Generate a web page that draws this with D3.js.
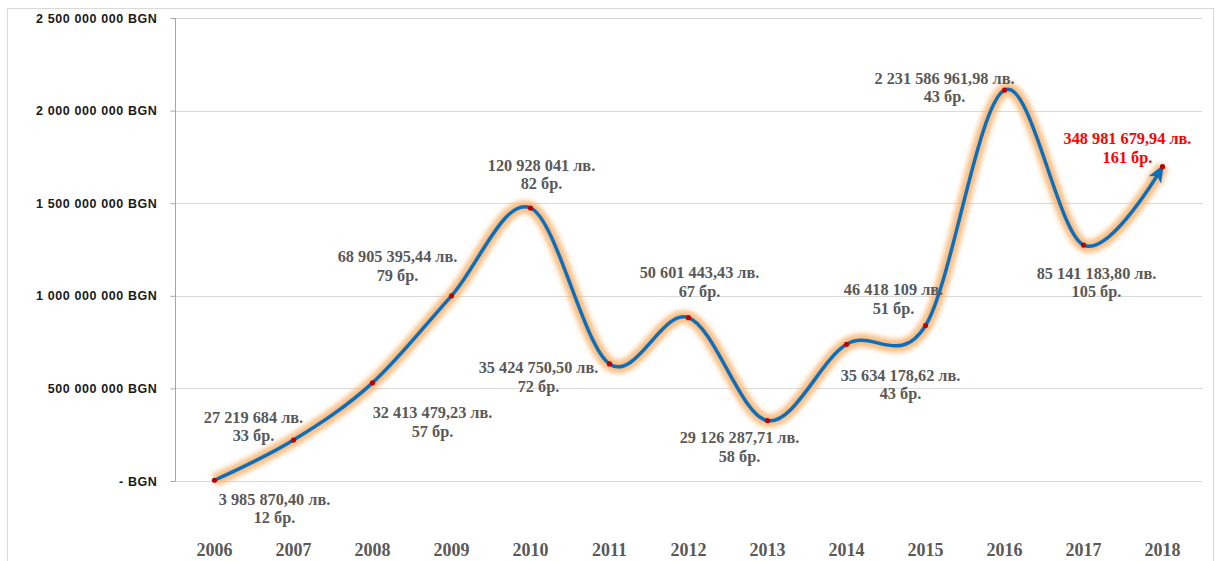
<!DOCTYPE html>
<html>
<head>
<meta charset="utf-8">
<script src="https://cdn.jsdelivr.net/npm/d3@7"></script>
<style>
  html, body { margin: 0; padding: 0; background: #fff; }
  svg { display: block; }
</style>
</head>
<body>
<div id="chart"></div>
<script>
// Years on the horizontal axis
const years = [2006, 2007, 2008, 2009, 2010, 2011, 2012, 2013, 2014, 2015, 2016, 2017, 2018];

// Plotted series (BGN)
const seriesValues = [3985870, 221e6, 530e6, 1000e6, 1474e6, 632e6, 882e6, 326e6, 738e6, 839e6, 2111e6, 1274e6, 1697e6];

// Annotation text for each year: amount and number of items
const amountLabels = [
  "3 985 870,40 лв.", "27 219 684 лв.", "32 413 479,23 лв.", "68 905 395,44 лв.",
  "120 928 041 лв.", "35 424 750,50 лв.", "50 601 443,43 лв.", "29 126 287,71 лв.",
  "35 634 178,62 лв.", "46 418 109 лв.", "2 231 586 961,98 лв.", "85 141 183,80 лв.",
  "348 981 679,94 лв."
];
const countLabels = [12, 33, 57, 79, 82, 72, 67, 58, 43, 51, 43, 105, 161];

// Y axis ticks
const yTickValues = [0, 500e6, 1000e6, 1500e6, 2000e6, 2500e6];
const yTickLabels = ["- BGN", "500 000 000 BGN", "1 000 000 000 BGN", "1 500 000 000 BGN", "2 000 000 000 BGN", "2 500 000 000 BGN"];

// Label placement relative to each point (dx, dy of first line centre)
const labelOffsets = [
  [60, 19], [-40, -23], [60, 30], [-54, -39], [11, -43], [-71, 4], [11, -45],
  [-28, 17], [54, 31], [-32, -36], [-60, -12], [13, 28], [-35, -28]
];

const W = 1219, H = 561;
const svg = d3.select("#chart").append("svg").attr("width", W).attr("height", H);

const defs = svg.append("defs");
defs.append("filter").attr("id", "glow").attr("x", "-10%").attr("y", "-10%").attr("width", "120%").attr("height", "120%")
  .append("feGaussianBlur").attr("stdDeviation", 2.8);
defs.append("marker").attr("id", "arrow")
  .attr("viewBox", "0 0 10 10").attr("refX", 8.5).attr("refY", 5)
  .attr("markerWidth", 18).attr("markerHeight", 18)
  .attr("markerUnits", "userSpaceOnUse").attr("orient", "auto")
  .append("path").attr("d", "M0,1 L10,5 L0,9 L2.5,5 Z").attr("fill", "#0C6FBE");
defs.append("marker").attr("id", "arrowGlow")
  .attr("viewBox", "0 0 10 10").attr("refX", 8.5).attr("refY", 5)
  .attr("markerWidth", 18).attr("markerHeight", 18)
  .attr("markerUnits", "userSpaceOnUse").attr("orient", "auto")
  .append("path").attr("d", "M-1.5,-0.5 L11.5,5 L-1.5,10.5 Z").attr("fill", "#F9B872");

// Outer frame
svg.append("rect").attr("x", 7.5).attr("y", 8.5).attr("width", 1206).attr("height", 560)
  .attr("fill", "none").attr("stroke", "#D9D9D9").attr("stroke-width", 1);

const x = d3.scalePoint().domain(years).range([175, 1202]).padding(0.5);
const y = d3.scaleLinear().domain([0, 2.5e9]).range([481, 18]);

// Gridlines
svg.append("g").selectAll("line").data(yTickValues).join("line")
  .attr("x1", 175).attr("x2", 1202)
  .attr("y1", d => Math.round(y(d)) + 0.5).attr("y2", d => Math.round(y(d)) + 0.5)
  .attr("stroke", "#D9D9D9").attr("stroke-width", 1);

// Y axis
const yAxis = svg.append("g").attr("transform", "translate(175.5,0)")
  .call(d3.axisLeft(y).tickValues(yTickValues).tickSize(5).tickPadding(13)
    .tickFormat((d, i) => yTickLabels[i]));
yAxis.select(".domain").attr("stroke", "#A6A6A6").attr("d", `M0,${y(2.5e9)}V${y(0)}`);
yAxis.selectAll(".tick line").attr("stroke", "#A6A6A6");
yAxis.selectAll(".tick text")
  .attr("font-family", "'Liberation Sans', Arial, sans-serif")
  .attr("font-weight", "bold").attr("font-size", 12.5)
  .attr("letter-spacing", 0.6)
  .attr("fill", "#1a1a1a");

// X axis labels
svg.append("g").selectAll("text").data(years).join("text")
  .attr("x", d => x(d)).attr("y", 556)
  .attr("text-anchor", "middle")
  .attr("font-family", "'Liberation Serif', 'Times New Roman', serif")
  .attr("font-weight", "bold").attr("font-size", 18)
  .attr("fill", "#595959")
  .text(d => d);

// Smoothed series line with glow
const pts = years.map((yr, i) => [x(yr), y(seriesValues[i])]);
const line = d3.line().curve(d3.curveCardinal.tension(0));

svg.append("path").attr("d", line(pts))
  .attr("fill", "none").attr("stroke", "#F9B26A").attr("stroke-width", 13)
  .attr("stroke-linejoin", "round").attr("stroke-opacity", 0.85)
  .attr("marker-end", "url(#arrowGlow)")
  .attr("filter", "url(#glow)");
svg.append("path").attr("d", line(pts))
  .attr("fill", "none").attr("stroke", "#0C6FBE").attr("stroke-width", 3.5)
  .attr("stroke-linejoin", "round")
  .attr("marker-end", "url(#arrow)");

// Point markers
svg.append("g").selectAll("circle").data(pts).join("circle")
  .attr("cx", d => d[0]).attr("cy", d => d[1]).attr("r", 2.6)
  .attr("fill", "#C00000");

// Data annotations
const lab = svg.append("g")
  .attr("font-family", "'Liberation Serif', 'Times New Roman', serif")
  .attr("font-weight", "bold").attr("font-size", 16.3)
  .attr("text-anchor", "middle");
years.forEach((yr, i) => {
  const [px, py] = pts[i];
  const [dx, dy] = labelOffsets[i];
  const color = i === years.length - 1 ? "#FF0000" : "#595959";
  const t = lab.append("text").attr("fill", color);
  t.append("tspan").attr("x", px + dx).attr("y", py + dy + 5.5).text(amountLabels[i]);
  t.append("tspan").attr("x", px + dx).attr("y", py + dy + 24).text(countLabels[i] + " бр.");
});
</script>
</body>
</html>
